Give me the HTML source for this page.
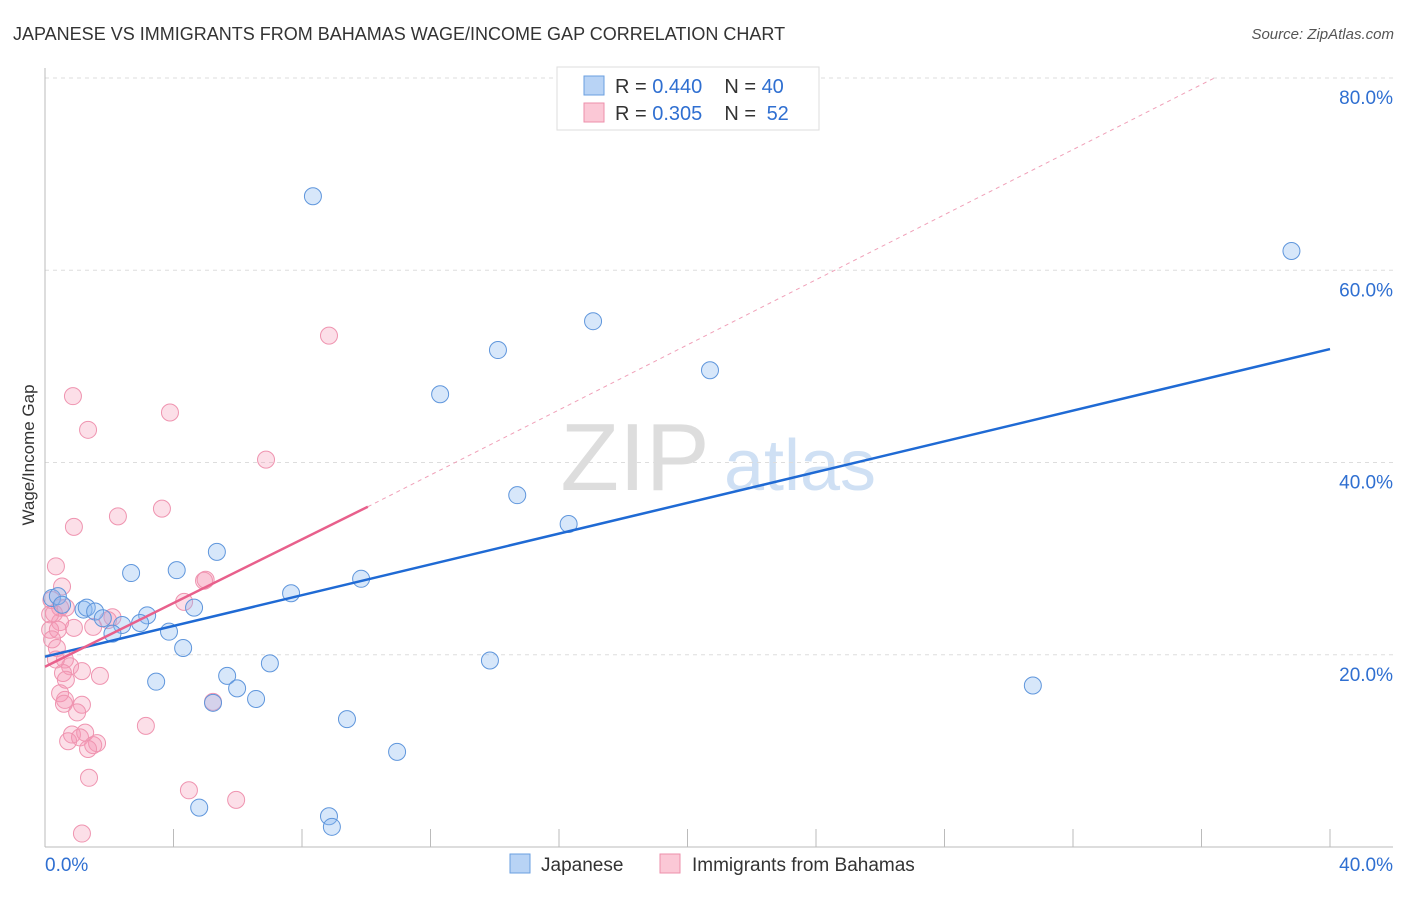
<!DOCTYPE html>
<html><head><meta charset="utf-8"><style>
body{margin:0;background:#fff;font-family:"Liberation Sans",sans-serif;}
svg text{font-family:"Liberation Sans",sans-serif;}
</style></head><body>
<svg id="chart" width="1406" height="892" viewBox="0 0 1406 892" xmlns="http://www.w3.org/2000/svg">
<text x="13" y="40" font-size="18" fill="#333">JAPANESE VS IMMIGRANTS FROM BAHAMAS WAGE/INCOME GAP CORRELATION CHART</text>
<text x="1394" y="39" font-size="15" fill="#555" text-anchor="end" font-style="italic">Source: ZipAtlas.com</text>
<g>
<text x="635" y="490" font-size="96" fill="#ddd" text-anchor="middle" font-family="Liberation Serif">ZIP</text>
<text x="800" y="490" font-size="72" fill="#cfe0f4" text-anchor="middle">atlas</text>
</g>
<g id="grid"></g>
<g id="axes"></g>
<g id="lines"></g>
<g id="pts"></g>
<text transform="translate(34,455) rotate(-90)" font-size="17" fill="#333" text-anchor="middle">Wage/Income Gap</text>
<g>
<rect x="557" y="67" width="262" height="63" fill="#fff" stroke="#ddd"/>
<rect x="584" y="76" width="20" height="19" fill="#b8d3f5" stroke="#6a9fe0"/>
<rect x="584" y="103" width="20" height="19" fill="#fbc8d6" stroke="#ee8fab"/>
<text x="615" y="93" font-size="20" fill="#333">R = <tspan fill="#2f6fd1">0.440</tspan><tspan dx="22">N = </tspan><tspan fill="#2f6fd1">40</tspan></text>
<text x="615" y="120" font-size="20" fill="#333">R = <tspan fill="#2f6fd1">0.305</tspan><tspan dx="22">N = </tspan><tspan fill="#2f6fd1" dx="5">52</tspan></text>
</g>
<g>
<rect x="510" y="854" width="20" height="19" fill="#b8d3f5" stroke="#6a9fe0"/>
<text x="541" y="871" font-size="19" fill="#333">Japanese</text>
<rect x="660" y="854" width="20" height="19" fill="#fbc8d6" stroke="#ee8fab"/>
<text x="692" y="871" font-size="19" fill="#333">Immigrants from Bahamas</text>
</g>
</svg>
<script>
const yTicks=[20,40,60,80];
const yTickLabels=["20.0%","40.0%","60.0%","80.0%"];
const xTickLabels=["0.0%","40.0%"];
const blueX=[8.34,38.8,17.06,14.1,20.7,12.3,14.7,16.3,5.35,2.68,4.1,9.84,7.66,0.22,0.4,1.2,1.3,1.56,1.8,3.18,4.64,2.96,2.4,2.1,3.86,4.3,7.0,13.85,3.46,5.67,5.98,6.57,5.23,9.4,10.96,30.75,4.8,8.84,8.93,0.53];
const blueY=[67.7,62.0,54.7,51.7,49.6,47.1,36.6,33.6,30.7,28.5,28.8,27.9,26.4,25.9,26.1,24.7,24.9,24.5,23.8,24.1,24.9,23.3,23.1,22.2,22.4,20.7,19.1,19.4,17.2,17.8,16.5,15.4,15.0,13.3,9.9,16.8,4.1,3.2,2.1,25.2];
const pinkX=[8.84,0.87,3.89,1.34,6.88,2.27,3.64,0.9,0.34,0.53,4.95,5.0,4.33,0.65,0.28,0.47,2.1,1.5,0.16,0.4,0.22,0.37,0.62,0.78,1.15,1.71,0.56,0.65,0.47,0.62,1.15,0.59,1.0,3.14,5.23,0.84,1.25,0.72,1.09,1.5,1.62,1.34,1.37,4.48,5.95,1.15,0.47,0.2,0.9,0.34,1.96,0.16];
const pinkY=[53.2,46.9,45.2,43.4,40.3,34.4,35.2,33.3,29.2,27.1,27.7,27.8,25.5,24.9,24.3,23.4,23.9,22.9,22.6,22.6,21.6,20.7,19.5,18.8,18.3,17.8,18.1,17.4,16.0,15.3,14.8,14.9,14.0,12.6,15.1,11.7,11.9,11.0,11.4,10.6,10.8,10.2,7.2,5.9,4.9,1.4,24.9,25.7,22.8,19.5,23.6,24.2];
const blueTrend=[19.8,51.8];
const pinkTrend=[18.75,35.4,80];
const pinkTrendX=[0,10.05,36.4];
const NS="http://www.w3.org/2000/svg";
const X0=45,X1=1330,Y0=847,Y80=78;
const sx=v=>X0+v*(X1-X0)/40;
const sy=v=>Y0-v*(Y0-Y80)/80;
function mk(tag,attrs,parent){const e=document.createElementNS(NS,tag);for(const k in attrs)e.setAttribute(k,attrs[k]);document.getElementById(parent).appendChild(e);return e;}
yTicks.forEach((t,i)=>{
 const g=mk('line',{x1:X0,x2:1393,y1:sy(t),y2:sy(t),stroke:'#ddd','stroke-dasharray':'4,4'},'grid');
 
 
 const l=mk('text',{x:1393,y:sy(t)+26,'font-size':19,fill:'#2f6fd1','text-anchor':'end'},'axes');
 l.textContent=yTickLabels[i];
 
 
});
const ax=mk('line',{x1:X0,x2:X0,y1:68,y2:Y0,stroke:'#bbb'},'axes');


const bx=mk('line',{x1:X0,x2:1393,y1:Y0,y2:Y0,stroke:'#bbb'},'axes');


for(let i=1;i<=10;i++){const t=mk('line',{x1:sx(i*4),x2:sx(i*4),y1:Y0,y2:Y0-18,stroke:'#bbb'},'axes');
 
 }
[[0,'start',X0],[40,'end',1393]].forEach((d,i)=>{const l=mk('text',{x:d[2],y:871,'font-size':19,fill:'#2f6fd1','text-anchor':d[1]},'axes');l.textContent=xTickLabels[i];
 
 });
const pd=mk('line',{x1:sx(pinkTrendX[1]),y1:sy(pinkTrend[1]),x2:sx(pinkTrendX[2]),y2:sy(pinkTrend[2]),stroke:'#f0a0b8','stroke-dasharray':'4,4','stroke-width':1},'lines');


pinkX.forEach((x,i)=>{const c=mk('circle',{cx:sx(x),cy:sy(pinkY[i]),r:8.5,fill:'rgba(244,150,180,0.3)',stroke:'#ef94b0','stroke-width':1},'pts');
 
 });
blueX.forEach((x,i)=>{const c=mk('circle',{cx:sx(x),cy:sy(blueY[i]),r:8.5,fill:'rgba(140,185,240,0.35)',stroke:'#5f96dc','stroke-width':1},'pts');
 
 });
const bl=mk('line',{x1:sx(0),y1:sy(blueTrend[0]),x2:sx(40),y2:sy(blueTrend[1]),stroke:'#1f6ad4','stroke-width':2.5},'lines');


const pl=mk('line',{x1:sx(pinkTrendX[0]),y1:sy(pinkTrend[0]),x2:sx(pinkTrendX[1]),y2:sy(pinkTrend[1]),stroke:'#e8608c','stroke-width':2.5},'lines');


document.getElementById('chart').appendChild(document.getElementById('lines'));
</script>
</body></html>
